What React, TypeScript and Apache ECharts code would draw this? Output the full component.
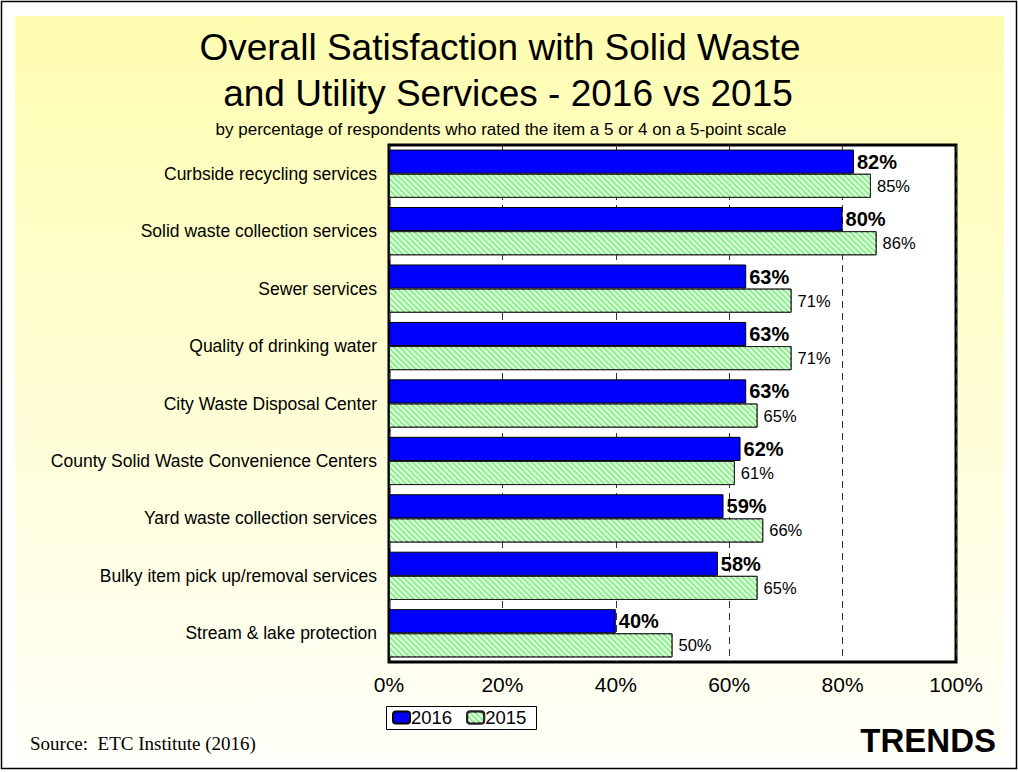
import React, { useEffect, useRef } from "react";
import * as echarts from "echarts";

const categories = [
  "Curbside recycling services",
  "Solid waste collection services",
  "Sewer services",
  "Quality of drinking water",
  "City Waste Disposal Center",
  "County Solid Waste Convenience Centers",
  "Yard waste collection services",
  "Bulky item pick up/removal services",
  "Stream & lake protection",
];
const values2016 = [82, 80, 63, 63, 63, 62, 59, 58, 40];
const values2015 = [85, 86, 71, 71, 65, 61, 66, 65, 50];
const xTicks = [0, 20, 40, 60, 80, 100];

const FONT = "Liberation Sans, Arial, sans-serif";

const greenDecal = {
  symbol: "rect",
  symbolSize: 1,
  color: "rgba(255,255,255,0.75)",
  dashArrayX: [1, 0],
  dashArrayY: [2, 2],
  rotation: Math.PI / 4,
};

export default function App() {
  const ref = useRef<HTMLDivElement>(null);
  useEffect(() => {
    const chart = echarts.init(ref.current!, undefined, { renderer: "svg" });
    chart.setOption({
      animation: false,
      textStyle: { fontFamily: FONT },
      graphic: [
        {
          type: "rect",
          z: -10,
          shape: { x: 1.5, y: 1.5, width: 1015, height: 767 },
          style: { fill: "#fff", stroke: "#000", lineWidth: 1.5 },
          silent: true,
        },
        {
          type: "rect",
          z: -9,
          shape: { x: 15, y: 16, width: 989, height: 741 },
          style: {
            fill: new echarts.graphic.LinearGradient(0, 0, 0, 1, [
              { offset: 0, color: "#FFFDB0" },
              { offset: 1, color: "#FFFFF8" },
            ]),
          },
          silent: true,
        },
        {
          type: "text",
          x: 500,
          y: 47,
          style: {
            text: "Overall Satisfaction with Solid Waste",
            fontSize: 37,
            fontFamily: FONT,
            fill: "#000",
            align: "center",
            verticalAlign: "middle",
          },
        },
        {
          type: "text",
          x: 508,
          y: 93,
          style: {
            text: "and Utility Services - 2016 vs 2015",
            fontSize: 37,
            fontFamily: FONT,
            fill: "#000",
            align: "center",
            verticalAlign: "middle",
          },
        },
        {
          type: "text",
          x: 501,
          y: 129,
          style: {
            text: "by percentage of respondents who rated the item a 5 or 4 on a 5-point scale",
            fontSize: 17,
            fontFamily: FONT,
            fill: "#000",
            align: "center",
            verticalAlign: "middle",
          },
        },
        {
          type: "rect",
          shape: { x: 386.5, y: 706.5, width: 150, height: 23 },
          style: { fill: "#fff", stroke: "#000", lineWidth: 1 },
          z: 5,
        },
        {
          type: "text",
          x: 30,
          y: 743,
          style: {
            text: "Source:  ETC Institute (2016)",
            fontSize: 19,
            fontFamily: "Liberation Serif, Times New Roman, serif",
            fill: "#000",
            verticalAlign: "middle",
          },
        },
        {
          type: "text",
          x: 996,
          y: 740,
          style: {
            text: "TRENDS",
            fontSize: 33,
            fontWeight: "bold",
            fontFamily: FONT,
            fill: "#000",
            align: "right",
            verticalAlign: "middle",
          },
        },
      ],
      legend: {
        left: 392,
        top: 708,
        itemWidth: 17,
        itemHeight: 12,
        itemGap: 14,
        padding: 0,
        z: 10,
        textStyle: { fontSize: 18.5, color: "#000", padding: [0, 0, 0, -4] },
        data: ["2016", "2015"],
      },
      grid: {
        left: 389,
        right: 62,
        top: 145,
        bottom: 110,
        show: true,
        backgroundColor: "#fff",
        borderColor: "#000",
        borderWidth: 3,
        containLabel: false,
      },
      xAxis: {
        type: "value",
        min: xTicks[0],
        max: xTicks[xTicks.length - 1],
        interval: 20,
        axisLine: { show: false },
        axisTick: { show: false },
        axisLabel: {
          formatter: "{value}%",
          fontSize: 21,
          color: "#000",
          margin: 12,
        },
        splitLine: {
          show: true,
          lineStyle: { color: "#333", width: 1, type: [7, 5] },
        },
      },
      yAxis: {
        type: "category",
        inverse: true,
        data: categories,
        axisLine: { show: false },
        axisTick: { show: false },
        axisLabel: { fontSize: 17.5, color: "#000", margin: 12 },
      },
      series: [
        {
          name: "2016",
          type: "bar",
          data: values2016,
          barGap: "0%",
          barCategoryGap: "16%",
          itemStyle: { color: "#0000FF", borderColor: "#000", borderWidth: 1 },
          label: {
            show: true,
            position: "right",
            distance: 3,
            formatter: "{c}%",
            fontSize: 20,
            fontWeight: "bold",
            color: "#000",
          },
        },
        {
          name: "2015",
          type: "bar",
          data: values2015,
          itemStyle: {
            color: "#8CF08C",
            borderColor: "#222",
            borderWidth: 1,
            decal: greenDecal,
          },
          label: {
            show: true,
            position: "right",
            distance: 6,
            formatter: "{c}%",
            fontSize: 16.5,
            color: "#000",
          },
        },
      ],
    });
    return () => chart.dispose();
  }, []);
  return (
    <div
      ref={ref}
      style={{ position: "absolute", left: 0, top: 0, width: 1018, height: 772 }}
    />
  );
}
